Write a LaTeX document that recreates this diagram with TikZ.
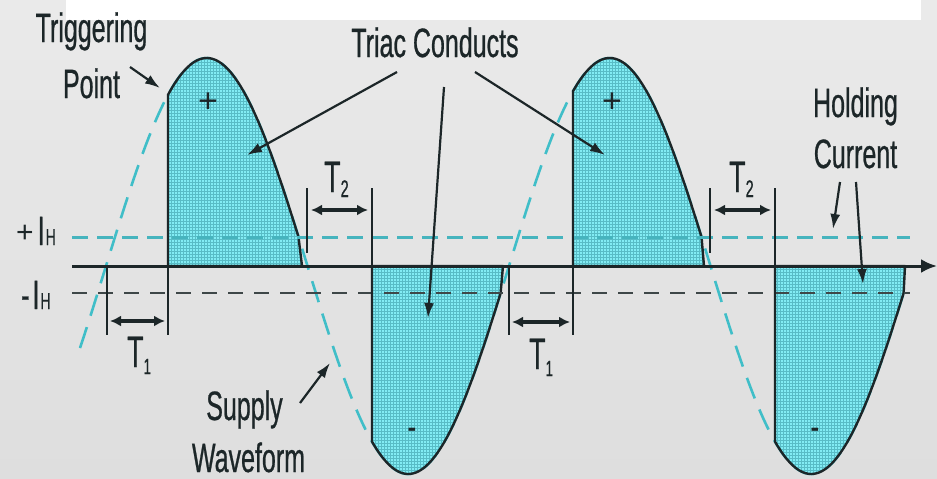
\documentclass[tikz,border=0pt]{standalone}
\usepackage{fontspec}
\setmainfont{Liberation Sans}[FakeStretch=0.61,FakeBold=0.6]
\newfontfamily\plainsans{Liberation Sans}
\usetikzlibrary{arrows.meta,patterns}
\definecolor{bgtop}{RGB}{234,234,234}
\definecolor{bgbot}{RGB}{222,222,222}
\definecolor{ink}{RGB}{28,38,40}
\definecolor{wave}{RGB}{64,190,200}
\definecolor{ihcol}{RGB}{70,180,190}
\definecolor{lobefill}{RGB}{130,236,244}
\definecolor{mesh}{RGB}{88,188,198}
\def\sy#1{266-208*sin(((#1)-106)*0.8933)}
\tikzset{
 lbl/.style={font=\fontsize{41}{41}\selectfont, text=ink, inner sep=0pt, anchor=base},
 tlbl/.style={font=\fontsize{44}{44}\selectfont, text=ink, inner sep=0pt, anchor=base west},
 sgn/.style={font=\plainsans\fontsize{34}{34}\selectfont, text=ink, inner sep=0pt},
 nsgn/.style={font=\plainsans\bfseries\fontsize{26}{26}\selectfont, text=ink, inner sep=0pt},
 lobe/.style={preaction={fill=lobefill}, pattern=grid, pattern color=mesh, draw=ink, line width=2.4pt, line join=round},
 supply/.style={draw=wave, line width=2.6pt, dash pattern=on 22pt off 12pt},
 ihplus/.style={draw=ihcol, line width=3pt, dash pattern=on 16pt off 9pt},
 ihminus/.style={draw=ink!85, line width=2.2pt, dash pattern=on 15pt off 11pt},
 axisline/.style={draw=ink, line width=3pt, -{Latex[length=16pt,width=14pt]}},
 ptr/.style={draw=ink, line width=2.2pt, -{Latex[length=15pt,width=10pt]}},
 spanarrow/.style={draw=ink, line width=3.2pt, {Latex[length=11pt,width=11pt]}-{Latex[length=11pt,width=11pt]}},
 marker/.style={draw=ink, line width=2pt},
}
\begin{document}
\begin{tikzpicture}[x=1pt,y=-1pt]
\useasboundingbox (0,0) rectangle (937,479);
\shade[top color=bgtop,bottom color=bgbot] (0,0) rectangle (937,479);
\fill[white] (66,0) rectangle (921,20);
% supply waveform (dashed)
\draw[supply] plot[domain=80:905,samples=240] (\x,{\sy{\x}});
% conduction lobes
\path[lobe] (168,266) -- plot[domain=168:298.5,samples=60] (\x,{\sy{\x}}) -- (302,266) -- cycle;
\path[lobe] (372,266) -- plot[domain=372:500.6,samples=60] (\x,{\sy{\x}}) -- (503,266) -- cycle;
\path[lobe] (573,266) -- plot[domain=573:701.5,samples=60] (\x,{\sy{\x}}) -- (704,266) -- cycle;
\path[lobe] (775,266) -- plot[domain=775:903.6,samples=60] (\x,{\sy{\x}}) -- (905,266) -- cycle;
% holding current levels
\coordinate (ihp0) at (72,237); \coordinate (ihp1) at (910,237);
\coordinate (ihm0) at (72,293); \coordinate (ihm1) at (910,293);
\draw[ihplus] (ihp0) -- (ihp1);
\draw[ihminus] (ihm0) -- (ihm1);
% axis
\coordinate (ax0) at (72,266); \coordinate (ax1) at (937,266);
\draw[axisline] (ax0) -- (ax1);
% markers
\coordinate (m0t) at (107,266); \coordinate (m0b) at (107,335);
\coordinate (m1t) at (168,{\sy{168}}); \coordinate (m1b) at (168,335);
\coordinate (m2t) at (307,188); \coordinate (m2b) at (307,253);
\coordinate (m3t) at (372,188); \coordinate (m3b) at (372,{\sy{372}});
\coordinate (m4t) at (509,266); \coordinate (m4b) at (509,335);
\coordinate (m5t) at (573,{\sy{573}}); \coordinate (m5b) at (573,335);
\coordinate (m6t) at (710,188); \coordinate (m6b) at (710,253);
\coordinate (m7t) at (775,188); \coordinate (m7b) at (775,{\sy{775}});
\foreach \i in {0,...,7} {\draw[marker] (m\i t) -- (m\i b);}
% T spans
\coordinate (s1a) at (110,321); \coordinate (s1b) at (165,321);
\coordinate (s2a) at (311,210); \coordinate (s2b) at (368,210);
\coordinate (s3a) at (512,322); \coordinate (s3b) at (570,322);
\coordinate (s4a) at (714,210); \coordinate (s4b) at (771,210);
\draw[spanarrow] (s1a) -- (s1b);
\draw[spanarrow] (s2a) -- (s2b);
\draw[spanarrow] (s3a) -- (s3b);
\draw[spanarrow] (s4a) -- (s4b);
% labels
\node[lbl] (trig) at (91.5,42) {Triggering};
\node[lbl] (point) at (91.5,98) {Point};
\node[lbl] (triac) at (435,57) {Triac Conducts};
\node[lbl] (hold) at (855.5,117) {Holding};
\node[lbl] (curr) at (855.5,168) {Current};
\node[lbl] (sup) at (244.5,420) {Supply};
\node[lbl] (wav) at (248.5,472) {Waveform};
\node[tlbl] (t1a) at (127,367) {T\raisebox{-7pt}{\fontsize{22}{22}\selectfont 1}};
\node[tlbl] (t1b) at (529,369) {T\raisebox{-7pt}{\fontsize{22}{22}\selectfont 1}};
\node[tlbl] (t2a) at (324,192) {T\raisebox{-5pt}{\fontsize{24}{24}\selectfont 2}};
\node[tlbl] (t2b) at (729,192) {T\raisebox{-5pt}{\fontsize{24}{24}\selectfont 2}};
\node[lbl, anchor=base west] (pih) at (16,245) {\raisebox{3pt}{\plainsans\fontsize{30}{30}\selectfont +}\hspace{4pt}I\hspace{1pt}{\fontsize{23}{23}\selectfont H}};
\node[lbl, anchor=base west] (mih) at (21,309) {-\hspace{3pt}I\hspace{1pt}{\fontsize{23}{23}\selectfont H}};
\node[sgn] (p1) at (208,103) {+};
\node[sgn] (p2) at (612,103) {+};
\node[nsgn] (n1) at (412,432) {-};
\node[nsgn] (n2) at (815,432) {-};
% pointers
\coordinate (tpS) at (130,67); \coordinate (tpE) at (160,88);
\draw[ptr] (tpS) -- (tpE);
\coordinate (tcL0) at (397,72); \coordinate (tcL1) at (247,155);
\coordinate (tcM0) at (444,87); \coordinate (tcM1) at (428,318);
\coordinate (tcR0) at (475,72); \coordinate (tcR1) at (605,155);
\draw[ptr] (tcL0) -- (tcL1);
\draw[ptr] (tcM0) -- (tcM1);
\draw[ptr] (tcR0) -- (tcR1);
\coordinate (swS) at (300,403); \coordinate (swE) at (330,363);
\draw[ptr] (swS) -- (swE);
\coordinate (hcL0) at (840,182); \coordinate (hcL1) at (833,229);
\coordinate (hcR0) at (856,182); \coordinate (hcR1) at (863,284);
\draw[ptr] (hcL0) -- (hcL1);
\draw[ptr] (hcR0) -- (hcR1);
\end{tikzpicture}
\end{document}
